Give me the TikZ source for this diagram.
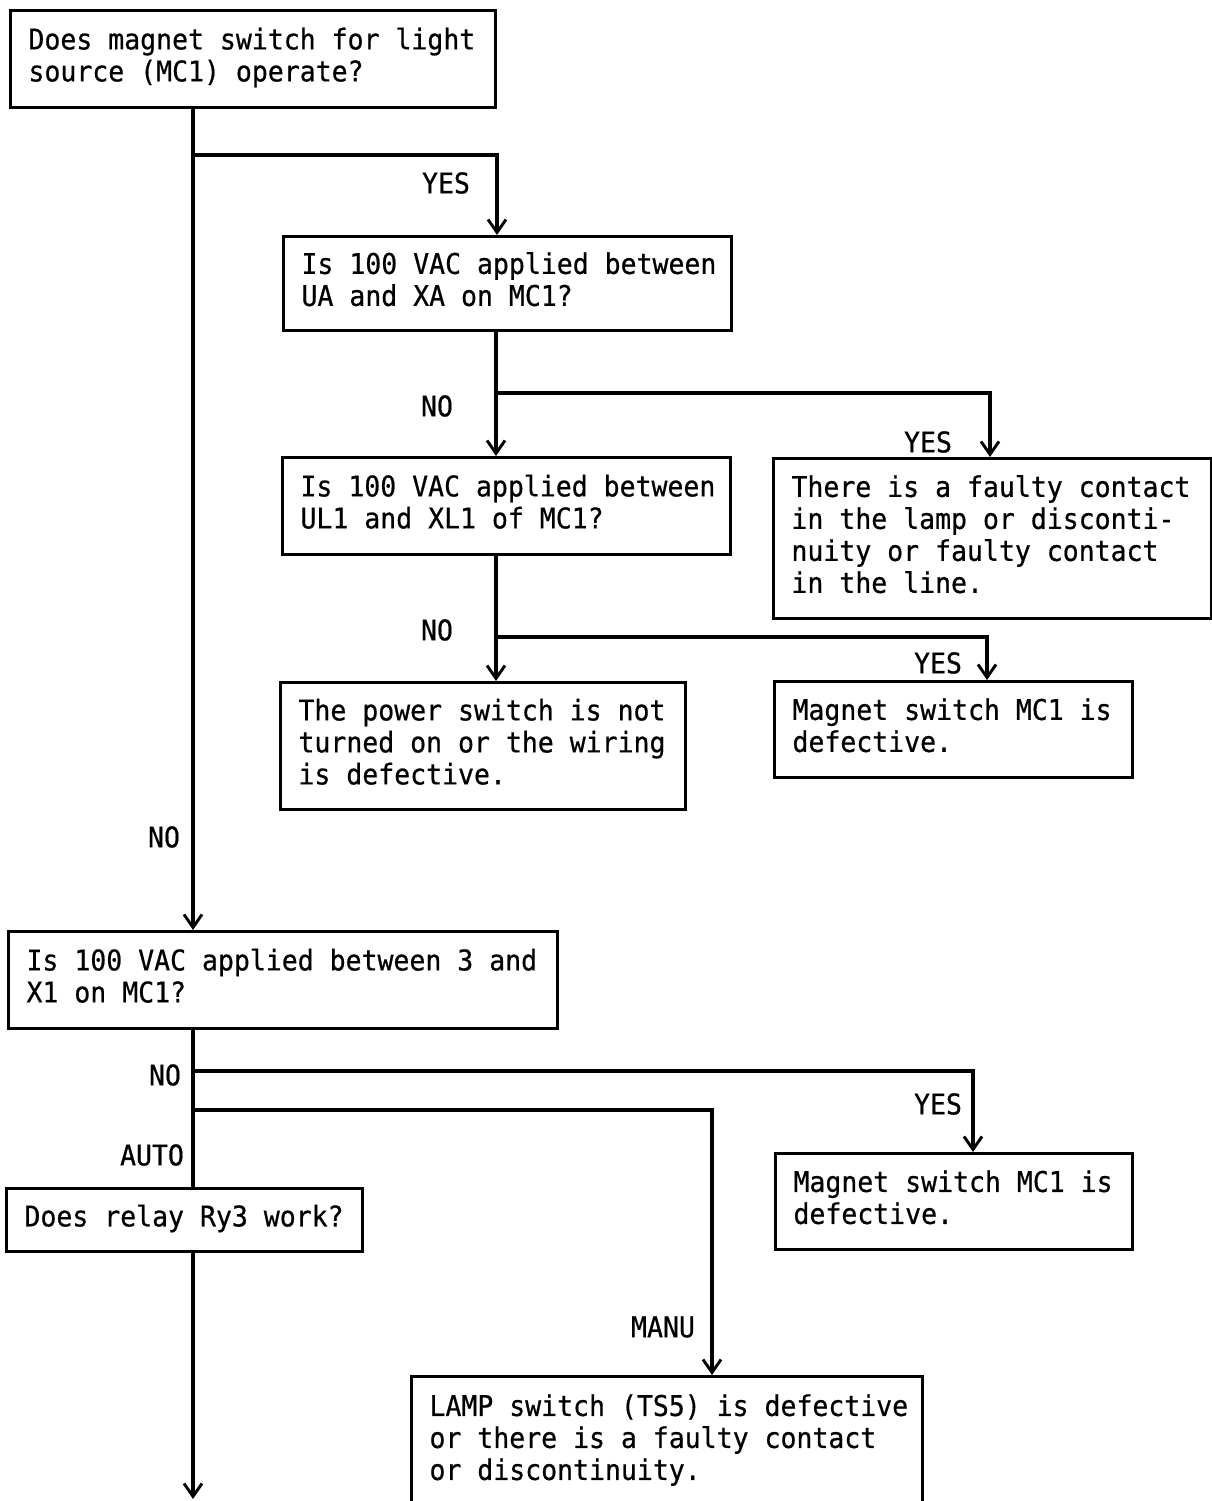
\documentclass[tikz,border=0pt]{standalone}
\usepackage{fontspec}
\setmonofont{DejaVu Sans Mono}[FakeStretch=0.93,FakeBold=0.6]
\usetikzlibrary{arrows.meta}
\newcommand{\mylines}[1]{\spaceskip=0.56em\xspaceskip=0.56em\relax\begin{tabular}{@{}l@{}}#1\end{tabular}}
\newcommand{\myfont}{\ttfamily\fontsize{28.5}{32}\selectfont}
\begin{document}
\begin{tikzpicture}[x=1pt,y=-1pt,line width=3pt,
  box/.style={draw,rectangle,line width=3pt,anchor=north west,inner xsep=18pt,inner ysep=0pt,
    align=left,font=\myfont},
  lbl/.style={font=\myfont,inner sep=0pt},
  conn/.style={draw,line width=3.1pt},
  arr/.style={conn,-{Straight Barb[length=13pt,width=18pt,line width=2.9pt]}}]
\fill[white] (0,0) rectangle (1212,1501);
\useasboundingbox (0,0) rectangle (1212,1501);

\node[box,text width=449pt,minimum height=97pt] (b1) at (9,9)
  {\mylines{Does magnet switch for light\\source (MC1) operate?}};
\node[box,text width=412pt,minimum height=94pt] (b2) at (282,235)
  {\mylines{Is 100 VAC applied between\\UA and XA on MC1?}};
\node[box,text width=412pt,minimum height=97pt] (b3) at (281,456)
  {\mylines{Is 100 VAC applied between\\UL1 and XL1 of MC1?}};
\node[box,text width=402pt,minimum height=160pt] (b4) at (772,457)
  {\mylines{There is a faulty contact\\in the lamp or disconti-\\nuity or faulty contact\\in the line.}};
\node[box,text width=369pt,minimum height=127pt] (b5) at (279,681)
  {\mylines{The power switch is not\\turned on or the wiring\\is defective.}};
\node[box,text width=322pt,minimum height=96pt] (b6) at (773,680)
  {\mylines{Magnet switch MC1 is\\defective.}};
\node[box,text width=513pt,minimum height=97pt] (b7) at (7,930)
  {\mylines{Is 100 VAC applied between 3 and\\X1 on MC1?}};
\node[box,text width=321pt,minimum height=96pt] (b8) at (774,1152)
  {\mylines{Magnet switch MC1 is\\defective.}};
\node[box,text width=320pt,minimum height=63pt] (b9) at (5,1187)
  {\mylines{Does relay Ry3 work?}};
\node[box,text width=475pt,minimum height=130pt] (b10) at (410,1375)
  {\mylines{LAMP switch (TS5) is defective\\or there is a faulty contact\\or discontinuity.}};

\coordinate (mx) at (193,0);
\coordinate (cx) at (496,0);
\coordinate (j1) at (193,155);
\coordinate (t1) at (497,155);
\coordinate (j2) at (496,393);
\coordinate (t2) at (990,393);
\coordinate (j3) at (496,637);
\coordinate (t3) at (987,637);
\coordinate (j4) at (193,1071);
\coordinate (t4) at (973,1071);
\coordinate (j5) at (193,1110);
\coordinate (t5) at (712,1110);
\coordinate (endpt) at (193,1499);

\draw[arr] (b1.south -| mx) -- (b7.north -| mx);
\draw[arr] (j1) -- (t1) -- (t1 |- b2.north);
\draw[arr] (b2.south -| cx) -- (b3.north -| cx);
\draw[arr] (j2) -- (t2) -- (t2 |- b4.north);
\draw[arr] (b3.south -| cx) -- (b5.north -| cx);
\draw[arr] (j3) -- (t3) -- (t3 |- b6.north);
\draw[conn] (b7.south -| mx) -- (b9.north -| mx);
\draw[arr] (j4) -- (t4) -- (t4 |- b8.north);
\draw[arr] (j5) -- (t5) -- (t5 |- b10.north);
\draw[arr] (b9.south -| mx) -- (endpt);

\node[lbl] (l1) at (446,183) {YES};
\node[lbl] (l2) at (437,406) {NO};
\node[lbl] (l3) at (928,442) {YES};
\node[lbl] (l4) at (437,630) {NO};
\node[lbl] (l5) at (938,663) {YES};
\node[lbl] (l6) at (164,837) {NO};
\node[lbl] (l7) at (165,1075) {NO};
\node[lbl] (l8) at (938,1104) {YES};
\node[lbl] (l9) at (152,1155) {AUTO};
\node[lbl] (l10) at (663,1327) {MANU};
\end{tikzpicture}
\end{document}
